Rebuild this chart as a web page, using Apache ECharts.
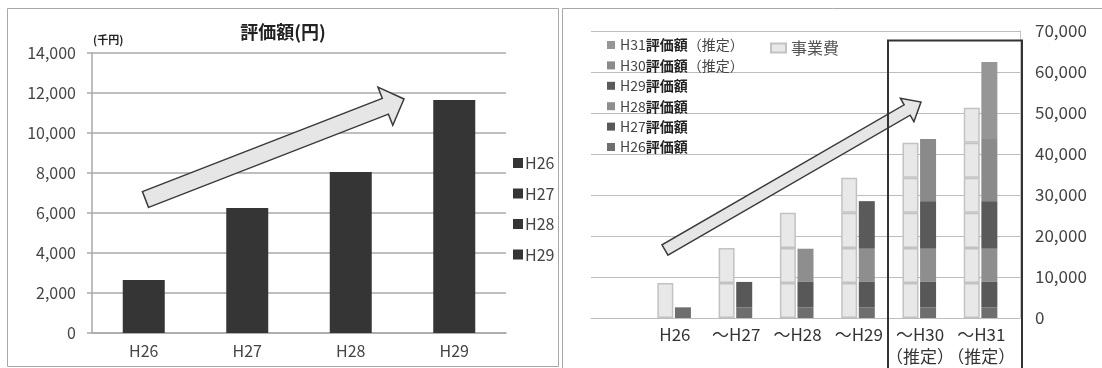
<!DOCTYPE html>
<html>
<head>
<meta charset="utf-8">
<script src="https://cdn.jsdelivr.net/npm/echarts@6/dist/echarts.min.js"></script>
<style>
  html, body { margin: 0; padding: 0; background: #fff; }
  #chart { width: 1102px; height: 368px; }
</style>
</head>
<body>
<div id="chart"></div>
<script>
// 左：評価額(円) 単年
const leftYears = ['H26', 'H27', 'H28', 'H29']
const leftValues = [2650, 6250, 8050, 11650]
const leftTicks = { min: 0, max: 14000, interval: 2000 }

// 右：累計（先頭は凡例用の空カテゴリ）
const rightCategories = ['', 'H26', '～H27', '～H28', '～H29', '～H30\n（推定）', '～H31\n（推定）']
const costNames = ['事業費', '事業費', '事業費', '事業費', '事業費', '事業費']
const costByYear = [8550, 8550, 8550, 8550, 8550, 8550]
const evalNames = ['H26評価額', 'H27評価額', 'H28評価額', 'H29評価額', 'H30評価額（推定）', 'H31評価額（推定）']
const evalByYear = [2600, 6200, 8100, 11600, 15150, 18800]
const rightTicks = { min: 0, max: 70000, interval: 10000 }

const FONT = '"Noto Sans CJK JP", "Noto Sans", sans-serif'
const EVAL_COLORS = ['#6e6e6e', '#585858', '#8e8e8e', '#5a5a5a', '#8a8a8a', '#969696']

// 年 k の値を k 年目以降の累計カテゴリに置く
function cumulative(value, k) {
  return rightCategories.map((c, i) => (i >= k + 1 ? value : '-'))
}

// 矢印（注記用の図形）
function arrow(tail, tip, shaftW, headW, headL) {
  const dx = tip[0] - tail[0], dy = tip[1] - tail[1]
  const len = Math.sqrt(dx * dx + dy * dy)
  const ux = dx / len, uy = dy / len
  const nx = -uy, ny = ux
  const bx = tip[0] - ux * headL, by = tip[1] - uy * headL
  const p = (x, y, w) => [x + nx * w / 2, y + ny * w / 2]
  const q = (x, y, w) => [x - nx * w / 2, y - ny * w / 2]
  return {
    type: 'polygon',
    z: 100,
    shape: {
      points: [
        p(tail[0], tail[1], shaftW), p(bx, by, shaftW), p(bx, by, headW),
        tip,
        q(bx, by, headW), q(bx, by, shaftW), q(tail[0], tail[1], shaftW),
      ],
    },
    style: { fill: '#e6e6e6', stroke: '#3a3a3a', lineWidth: 1.5 },
  }
}

const leftSeries = leftYears.map((name, i) => ({
  name,
  type: 'bar',
  xAxisIndex: 0,
  yAxisIndex: 0,
  stack: 'left',
  barWidth: 42,
  itemStyle: { color: '#353535' },
  data: leftYears.map((y, j) => (j === i ? leftValues[i] : '-')),
}))

const costSeries = costNames.map((name, k) => ({
  name,
  type: 'bar',
  xAxisIndex: 1,
  yAxisIndex: 1,
  stack: 'cost',
  barWidth: 16,
  barGap: '10%',
  itemStyle: { color: '#e8e8e8', borderColor: '#c2c2c2', borderWidth: 1.5 },
  data: cumulative(costByYear[k], k),
}))

const evalSeries = evalNames.map((name, k) => ({
  name,
  type: 'bar',
  xAxisIndex: 1,
  yAxisIndex: 1,
  stack: 'eval',
  barWidth: 16,
  barGap: '10%',
  itemStyle: { color: EVAL_COLORS[k] },
  data: cumulative(evalByYear[k], k),
}))

// 空きスロット（元グラフの棒の位置合わせ用）
const blankSeries = {
  name: 'blank',
  type: 'bar',
  xAxisIndex: 1,
  yAxisIndex: 1,
  stack: 'blank',
  barWidth: 16,
  barGap: '10%',
  itemStyle: { color: 'transparent' },
  data: rightCategories.map(() => 0),
}

const chart = echarts.init(document.getElementById('chart'))

chart.setOption({
  animation: false,
  backgroundColor: '#fff',
  textStyle: { fontFamily: FONT },
  grid: [
    { left: 92, right: 596, top: 53, bottom: 35 },
    { left: 591, right: 82, top: 31, bottom: 50 },
  ],
  xAxis: [
    {
      gridIndex: 0,
      type: 'category',
      data: leftYears,
      axisLine: { lineStyle: { color: '#a9a9a9', width: 1.5 } },
      axisTick: { show: false },
      axisLabel: { color: '#444', fontSize: 16, margin: 10, fontFamily: FONT },
    },
    {
      gridIndex: 1,
      type: 'category',
      data: rightCategories,
      axisLine: { lineStyle: { color: '#bdbdbd' } },
      axisTick: { show: false },
      axisLabel: { color: '#333', fontSize: 17, lineHeight: 22, margin: 6, interval: 0, fontFamily: FONT,
        padding: [0, 16, 0, 0] },
    },
  ],
  yAxis: [
    {
      gridIndex: 0,
      type: 'value',
      ...leftTicks,
      axisLine: { show: true, lineStyle: { color: '#a9a9a9', width: 1.5 } },
      axisTick: { show: true, length: 5, lineStyle: { color: '#a9a9a9', width: 1.5 } },
      axisLabel: { color: '#444', fontSize: 16, margin: 16, fontFamily: FONT,
        formatter: v => v.toLocaleString('en-US') },
      splitLine: { lineStyle: { color: '#aaaaaa', width: 1.5 } },
    },
    {
      gridIndex: 1,
      type: 'value',
      position: 'right',
      ...rightTicks,
      axisLine: { show: true, lineStyle: { color: '#c4c4c4' } },
      axisTick: { show: false },
      axisLabel: { color: '#444', fontSize: 17, margin: 15, fontFamily: FONT,
        formatter: v => v.toLocaleString('en-US') },
      splitLine: { lineStyle: { color: '#bdbdbd' } },
    },
  ],
  legend: [
    {
      data: leftYears,
      orient: 'vertical',
      left: 508,
      top: 150,
      selectedMode: false,
      icon: 'rect',
      itemWidth: 10,
      itemHeight: 10,
      itemGap: 14.5,
      textStyle: { color: '#444', fontSize: 16, lineHeight: 16, fontFamily: FONT, padding: [0, 0, 0, -3] },
    },
    {
      data: evalNames.slice().reverse(),
      orient: 'vertical',
      left: 602,
      top: 33,
      selectedMode: false,
      icon: 'rect',
      itemWidth: 8,
      itemHeight: 8,
      itemGap: 6.4,
      formatter: name => name.replace(/^(H\d+)(評価額)(.*)$/, '{n|$1}{b|$2}{n|$3}'),
      textStyle: {
        fontSize: 14,
        lineHeight: 14,
        fontFamily: FONT,
        rich: {
          n: { color: '#444', fontSize: 14, fontFamily: FONT },
          b: { color: '#222', fontSize: 14, fontWeight: 'bold', fontFamily: FONT },
        },
      },
    },
    {
      data: ['事業費'],
      left: 765,
      top: 35,
      selectedMode: false,
      icon: 'rect',
      itemWidth: 15,
      itemHeight: 9,
      textStyle: { color: '#555', fontSize: 16, fontFamily: FONT },
    },
  ],
  graphic: [
    { type: 'rect', z: 0, shape: { x: 7.5, y: 8.5, width: 551, height: 358 },
      style: { fill: 'none', stroke: '#a8a8a8', lineWidth: 1 } },
    { type: 'rect', z: 0, shape: { x: 562.5, y: 8.5, width: 560, height: 380 },
      style: { fill: 'none', stroke: '#a8a8a8', lineWidth: 1 } },
    { type: 'text', z: 100, x: 283, y: 32,
      style: { text: '評価額(円)', fill: '#222', font: 'bold 18px ' + FONT, align: 'center', verticalAlign: 'middle' } },
    { type: 'text', z: 100, x: 93, y: 40,
      style: { text: '(千円)', fill: '#222', font: 'bold 11px ' + FONT, align: 'left', verticalAlign: 'middle' } },
    arrow([145.5, 199.5], [404, 99], 17, 41, 20),
    arrow([665, 250], [921, 102], 12, 27, 16),
    { type: 'rect', z: 110, shape: { x: 888, y: 40.5, width: 134, height: 340 },
      style: { fill: 'none', stroke: '#333', lineWidth: 2 } },
  ],
  series: [...leftSeries, ...costSeries, ...evalSeries, blankSeries],
})
</script>
</body>
</html>
